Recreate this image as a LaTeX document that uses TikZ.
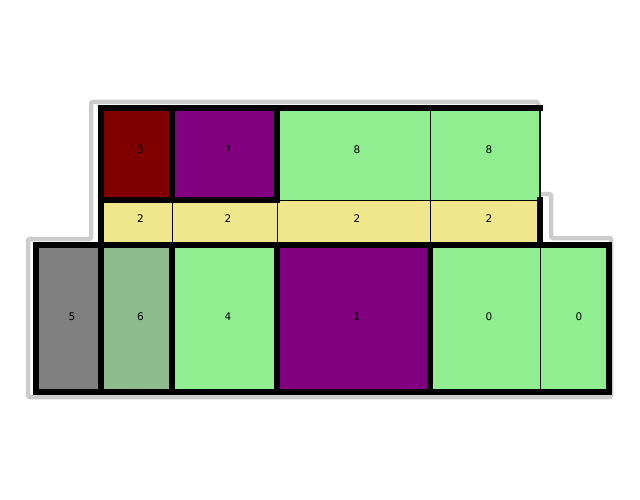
\documentclass[tikz,border=0pt]{standalone}
\usepackage{fontspec}
\setmainfont{DejaVu Sans}
\begin{document}
\begin{tikzpicture}[x=1pt,y=-1pt,
  cell/.style={draw=black,line width=0.9pt},
  wall/.style={draw=black,line width=5.2pt,line cap=rect},
  lbl/.style={font=\fontsize{10.5}{12}\selectfont,inner sep=0pt},
  outline/.style={draw=black!20,line width=4.5pt,rounded corners=2pt}]
\useasboundingbox (0,0) rectangle (640,500);
% outer gray outline
\draw[outline] (28,397) -- (28,239) -- (91,239) -- (91,102) -- (538,102) -- (538,194)
  -- (551,194) -- (551,238) -- (611,238) -- (611,397) -- cycle;
% top row
\fill[cell,fill={rgb,255:red,128;green,0;blue,0}] (101,108) rectangle (172,200);
\fill[cell,fill={rgb,255:red,128;green,0;blue,128}] (172,108) rectangle (277,200);
\fill[cell,fill={rgb,255:red,144;green,238;blue,144}] (277,108) rectangle (430,200);
\fill[cell,fill={rgb,255:red,144;green,238;blue,144}] (430,108) rectangle (540,200);
% middle row
\foreach \a/\b in {101/172,172/277,277/430,430/540}
  \fill[cell,fill={rgb,255:red,240;green,230;blue,140}] (\a,200) rectangle (\b,245);
% bottom row
\fill[cell,fill={rgb,255:red,128;green,128;blue,128}] (36,245) rectangle (101,392);
\fill[cell,fill={rgb,255:red,143;green,188;blue,143}] (101,245) rectangle (172,392);
\fill[cell,fill={rgb,255:red,144;green,238;blue,144}] (172,245) rectangle (277,392);
\fill[cell,fill={rgb,255:red,128;green,0;blue,128}] (277,245) rectangle (430,392);
\fill[cell,fill={rgb,255:red,144;green,238;blue,144}] (430,245) rectangle (540,392);
\fill[cell,fill={rgb,255:red,144;green,238;blue,144}] (540,245) rectangle (609,392);
% thick walls
\draw[wall] (101,200) -- (101,108) -- (540,108);
\draw[wall] (101,200) -- (277,200);
\draw[wall] (172,108) -- (172,200);
\draw[wall] (277,108) -- (277,200);
\draw[draw=black,line width=1.6pt] (540,108) -- (540,200);
\draw[wall] (101,200) -- (101,245);
\draw[wall] (540,200) -- (540,245);
\draw[wall] (36,245) rectangle (609,392);
\foreach \x in {101,172,277,430} \draw[wall] (\x,245) -- (\x,392);
% labels
\node[lbl] (r3) at (140.5,150) {3};
\node[lbl] (r7) at (228,150) {7};
\node[lbl] (r8a) at (357,150) {8};
\node[lbl] (r8b) at (489,150) {8};
\node[lbl] (r2a) at (140.5,219) {2};
\node[lbl] (r2b) at (228,219) {2};
\node[lbl] (r2c) at (357,219) {2};
\node[lbl] (r2d) at (489,219) {2};
\node[lbl] (r5) at (72,317) {5};
\node[lbl] (r6) at (140.5,317) {6};
\node[lbl] (r4) at (228,317) {4};
\node[lbl] (r1) at (357,317) {1};
\node[lbl] (r0a) at (489,317) {0};
\node[lbl] (r0b) at (579,317) {0};
\end{tikzpicture}
\end{document}
